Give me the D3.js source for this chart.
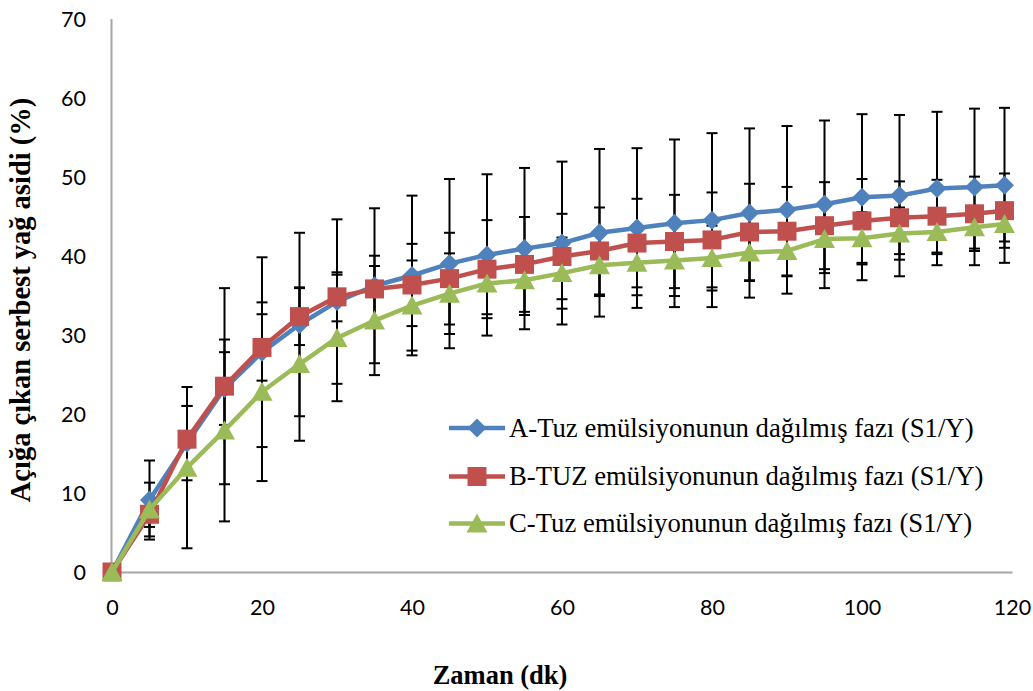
<!DOCTYPE html>
<html>
<head>
<meta charset="utf-8">
<script src="https://cdn.jsdelivr.net/npm/d3@7"></script>
<style>
  html, body { margin: 0; padding: 0; background: #fff; }
  svg { display: block; }
</style>
</head>
<body>
<svg id="chart" width="1033" height="691"></svg>
<script>
// Sampling times (dk)
const times = [0, 5, 10, 15, 20, 25, 30, 35, 40, 45, 50, 55, 60, 65, 70, 75, 80, 85, 90, 95, 100, 105, 110, 115, 119];

// Released free fatty acid (%) per series
const seriesA = [0, 9.1, 16.3, 23.2, 27.8, 31.3, 34.2, 36.2, 37.5, 39.0, 40.1, 40.9, 41.6, 42.9, 43.5, 44.1, 44.5, 45.4, 45.8, 46.5, 47.4, 47.6, 48.5, 48.7, 48.9];
const seriesB = [0, 7.3, 16.8, 23.5, 28.4, 32.3, 34.8, 35.8, 36.3, 37.1, 38.3, 38.9, 39.9, 40.6, 41.6, 41.8, 42.0, 43.0, 43.1, 43.8, 44.4, 44.8, 45.0, 45.3, 45.7];
const seriesC = [0, 7.9, 13.2, 17.9, 22.8, 26.3, 29.6, 31.8, 33.7, 35.2, 36.5, 36.9, 37.8, 38.8, 39.1, 39.4, 39.7, 40.4, 40.6, 42.1, 42.2, 42.8, 43.0, 43.6, 44.0];

// Standard deviations (±)
const errorA = [0, 5.0, 4.7, 4.6, 12.0, 11.6, 10.4, 9.8, 10.1, 10.7, 10.2, 10.2, 10.3, 10.6, 10.1, 10.6, 11.0, 10.7, 10.6, 10.6, 10.5, 10.2, 9.7, 9.9, 9.8];
const errorB = [0, 1.6, 4.2, 12.4, 4.2, 3.6, 3.1, 4.2, 5.2, 5.8, 6.2, 6.0, 5.4, 5.5, 5.6, 5.9, 6.0, 6.1, 5.6, 5.5, 5.3, 4.6, 4.6, 4.7, 4.7];
const errorC = [0, 3.4, 10.2, 11.5, 11.3, 9.7, 8.0, 6.9, 5.7, 5.1, 3.9, 4.4, 4.5, 3.9, 4.1, 4.5, 4.1, 3.6, 3.2, 4.3, 3.3, 3.3, 2.8, 2.7, 2.2];

const seriesNames = [
  "A-Tuz emülsiyonunun dağılmış fazı (S1/Y)",
  "B-TUZ emülsiyonunun dağılmış fazı (S1/Y)",
  "C-Tuz emülsiyonunun dağılmış fazı (S1/Y)"
];
const seriesColors = ["#4F81BD", "#C0504D", "#9BBB59"];
const seriesSymbols = ["diamond", "square", "triangle"];

const xTicks = [0, 20, 40, 60, 80, 100, 120];
const yTicks = [0, 10, 20, 30, 40, 50, 60, 70];
const xTitle = "Zaman (dk)";
const yTitle = "Açığa çıkan serbest yağ asidi (%)";

const series = [seriesA, seriesB, seriesC].map((vals, i) => ({
  name: seriesNames[i],
  color: seriesColors[i],
  symbol: seriesSymbols[i],
  points: times.map((t, j) => ({ t, v: vals[j], e: [errorA, errorB, errorC][i][j] }))
}));

const svg = d3.select("#chart");
const x = d3.scaleLinear().domain([0, 120]).range([112, 1012]);
const y = d3.scaleLinear().domain([0, 70]).range([572, 18.5]);

const axisColor = "#A6A6A6";
const tickFont = "Lato, 'Open Sans', sans-serif";
const serif = "'Liberation Serif', 'Times New Roman', serif";

// Axes
const xAxis = svg.append("g").attr("transform", `translate(0,${y(0)})`)
  .call(d3.axisBottom(x).tickValues(xTicks).tickSize(0).tickPadding(0).tickFormat(d3.format("d")));
xAxis.select(".domain").attr("stroke", axisColor).attr("stroke-width", 2);
xAxis.selectAll("text")
  .attr("y", 35).attr("dy", "0.35em")
  .attr("font-family", tickFont).attr("font-size", 21.5).attr("fill", "#000");

const yAxis = svg.append("g").attr("transform", `translate(${x(0) - 1},0)`)
  .call(d3.axisLeft(y).tickValues(yTicks).tickSize(0).tickPadding(0).tickFormat(d3.format("d")));
yAxis.select(".domain").attr("stroke", axisColor).attr("stroke-width", 2);
yAxis.selectAll("text")
  .attr("x", -25).attr("dy", "0.35em")
  .attr("font-family", tickFont).attr("font-size", 21.5).attr("fill", "#000");

// Error bars
const capHalf = 5.5;
const errG = svg.append("g").attr("stroke", "#000").attr("stroke-width", 2).attr("fill", "none");
series.forEach(s => {
  s.points.filter(p => p.e > 0).forEach(p => {
    const cx = x(p.t), y1 = y(p.v + p.e), y2 = y(p.v - p.e);
    errG.append("line").attr("x1", cx).attr("x2", cx).attr("y1", y1).attr("y2", y2);
    errG.append("line").attr("x1", cx - capHalf).attr("x2", cx + capHalf).attr("y1", y1).attr("y2", y1);
    errG.append("line").attr("x1", cx - capHalf).attr("x2", cx + capHalf).attr("y1", y2).attr("y2", y2);
  });
});

// Marker shapes
function markerPath(sym) {
  if (sym === "diamond") return "M0,-9.5L9.5,0L0,9.5L-9.5,0Z";
  if (sym === "square") return "M-9.5,-9.5H9.5V9.5H-9.5Z";
  return "M0,-11L10.5,8H-10.5Z";
}

const line = d3.line().x(p => x(p.t)).y(p => y(p.v));
series.forEach(s => {
  const g = svg.append("g");
  g.append("path").datum(s.points).attr("d", line)
    .attr("fill", "none").attr("stroke", s.color).attr("stroke-width", 4.5)
    .attr("stroke-linejoin", "round");
  g.selectAll("path.mk").data(s.points).join("path").attr("class", "mk")
    .attr("d", markerPath(s.symbol))
    .attr("transform", p => `translate(${x(p.t)},${y(p.v) + (s.symbol === "triangle" ? 1 : 0)})`)
    .attr("fill", s.color);
});

// Legend
const legendRows = [428, 476.5, 523.5];
series.forEach((s, i) => {
  const g = svg.append("g").attr("transform", `translate(0,${legendRows[i]})`);
  g.append("line").attr("x1", 449).attr("x2", 505).attr("y1", 0).attr("y2", 0)
    .attr("stroke", s.color).attr("stroke-width", 4.5);
  g.append("path").attr("d", markerPath(s.symbol))
    .attr("transform", `translate(477,${s.symbol === "triangle" ? 1 : 0})`).attr("fill", s.color);
  g.append("text").attr("x", 509).attr("y", 0).attr("dy", "0.33em")
    .attr("font-family", serif).attr("font-size", 26.7).attr("fill", "#000")
    .text(s.name);
});

// Axis titles
svg.append("text").attr("x", 500).attr("y", 684)
  .attr("text-anchor", "middle")
  .attr("font-family", serif).attr("font-weight", "bold").attr("font-size", 26.5)
  .text(xTitle);

svg.append("text")
  .attr("transform", "translate(30,300) rotate(-90)")
  .attr("text-anchor", "middle")
  .attr("font-family", serif).attr("font-weight", "bold").attr("font-size", 28.5)
  .text(yTitle);
</script>
</body>
</html>
